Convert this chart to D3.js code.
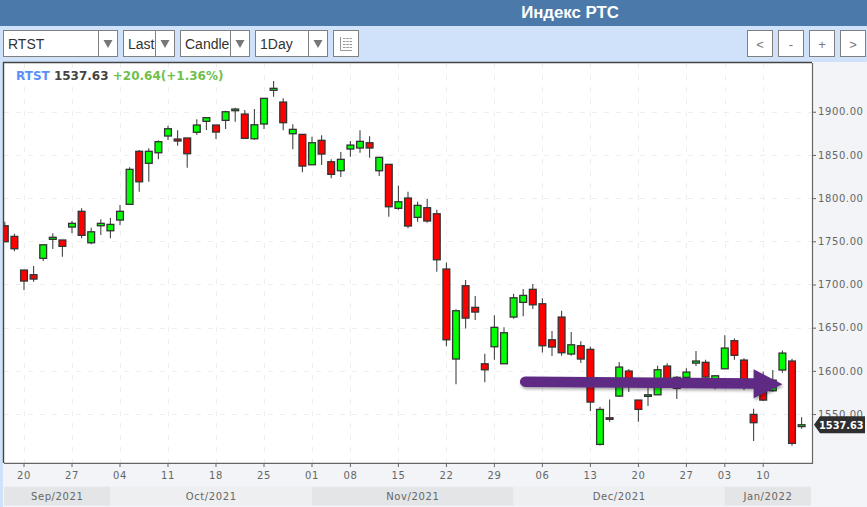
<!DOCTYPE html>
<html>
<head>
<meta charset="utf-8">
<script src="https://cdn.jsdelivr.net/npm/d3@7/dist/d3.min.js"></script>
<style>
html,body{margin:0;padding:0;background:#f2f4f7;overflow:hidden}
svg{display:block}
text{font-family:"DejaVu Sans",sans-serif}
.ui text{font-family:"Liberation Sans",Arial,sans-serif}
</style>
</head>
<body>
<svg id="c" width="867" height="507"></svg>
<script>
const dates = ["2021-09-16","2021-09-17","2021-09-20","2021-09-21","2021-09-22","2021-09-23","2021-09-24","2021-09-27","2021-09-28","2021-09-29","2021-09-30",
"2021-10-01","2021-10-04","2021-10-05","2021-10-06","2021-10-07","2021-10-08","2021-10-11","2021-10-12","2021-10-13","2021-10-14","2021-10-15","2021-10-18","2021-10-19","2021-10-20","2021-10-21","2021-10-22","2021-10-25","2021-10-26","2021-10-27","2021-10-28","2021-10-29",
"2021-11-01","2021-11-02","2021-11-03","2021-11-05","2021-11-08","2021-11-09","2021-11-10","2021-11-11","2021-11-12","2021-11-15","2021-11-16","2021-11-17","2021-11-18","2021-11-19","2021-11-22","2021-11-23","2021-11-24","2021-11-25","2021-11-26","2021-11-29","2021-11-30",
"2021-12-01","2021-12-02","2021-12-03","2021-12-06","2021-12-07","2021-12-08","2021-12-09","2021-12-10","2021-12-13","2021-12-14","2021-12-15","2021-12-16","2021-12-17","2021-12-20","2021-12-21","2021-12-22","2021-12-23","2021-12-24","2021-12-27","2021-12-28","2021-12-29","2021-12-30",
"2022-01-03","2022-01-04","2022-01-05","2022-01-06","2022-01-10","2022-01-11","2022-01-12","2022-01-13","2022-01-14"];
const opens = [1768,1755.7,1716.7,1711.3,1730.3,1752.3,1751.5,1766.5,1784.7,1748.3,
1768,1762.2,1774.6,1792.8,1854.2,1840.3,1852.5,1871.9,1868.4,1869.6,
1876.2,1888.9,1884.6,1890,1901.2,1897.3,1868.7,1885.8,1924.8,1911.2,
1874.5,1873.8,1838.6,1866.9,1842.1,1831.7,1856.8,1858,1864.1,1831.7,
1839.1,1788.2,1800.1,1777.7,1788.9,1781.9,1717.9,1613.7,1698.5,1673.5,
1608.2,1627.9,1608.2,1662.3,1679.3,1694.4,1677.7,1636,1662.3,1619.5,
1629.1,1624.9,1514.9,1545.7,1570.8,1599.8,1566.2,1570.5,1572.3,1605.6,
1579.7,1592.5,1609,1609.9,1582.4,1602.4,1634.9,1612.5,1549.6,1583.6,
1577,1601,1611.4,1535.5];
const closes = [1749.5,1741.4,1704,1706.3,1746,1754.6,1744.2,1770.8,1756.9,1761,
1770.8,1769.6,1784.7,1833.3,1818.9,1854.2,1865.3,1880.3,1866.1,1851.4,
1884.6,1893.1,1876.5,1900,1903.1,1869.2,1884.9,1915.5,1927.1,1887.3,
1879.6,1837.1,1864.1,1851,1827.5,1844.9,1861.4,1865.7,1858,1847.2,
1790,1795.8,1767.7,1791.6,1773.5,1728.6,1636,1669.6,1661.1,1668.1,
1601.3,1650.4,1644.1,1684.6,1687.4,1676.5,1629.1,1627.6,1621,1630.2,
1613.7,1563.9,1555.4,1543.9,1604.4,1582.4,1555.4,1572.3,1601.3,1583.6,
1592.5,1598.6,1611.4,1592.8,1594.3,1626.4,1618,1586,1540,1566.2,
1589.3,1620.6,1516.1,1537.63];
const highs = [1772.6,1758.7,1716.7,1721.3,1746,1759.2,1751.5,1773.4,1788.2,1765.7,
1775.4,1777,1792,1835.6,1855.7,1857.6,1866.9,1883.8,1878.5,1869.6,
1891.2,1893.9,1884.6,1901.2,1904.6,1902,1903.1,1915.5,1935.5,1915.5,
1885.4,1873.8,1871.1,1872.7,1844.9,1853.3,1866.1,1878.5,1871.5,1847.2,
1839.1,1814.3,1807.4,1795.8,1798.9,1786.5,1725.6,1671.2,1705.1,1686.6,
1619.8,1664.3,1650.4,1689.3,1694.7,1700.5,1684,1646.1,1669.6,1645,
1634.2,1627.9,1558.4,1567,1610.2,1602.1,1566.2,1580.1,1606,1608.7,
1594,1602.9,1623,1612.9,1595,1641.1,1637.6,1614.5,1556.1,1599,
1601,1623.7,1614,1546.2];
const lows = [1749.5,1738.4,1693.6,1703.2,1727.1,1741,1732.1,1759.2,1753.4,1746.5,
1757.2,1753.4,1768.5,1792.8,1807.4,1818.9,1844.9,1867.2,1860.6,1835.2,
1873,1878.8,1868.4,1880,1888.4,1869.2,1867.6,1880,1917.4,1878.5,
1856.5,1829.8,1838.6,1838.3,1822.9,1824.4,1847.9,1852.5,1846.7,1825.6,
1778.4,1786.5,1765,1772.6,1771.5,1714.7,1628.4,1584.4,1649.2,1658.8,
1586.7,1612.9,1608.2,1660.3,1663.1,1671.6,1621.4,1617.1,1617.5,1617.5,
1609,1553.5,1513.7,1541.1,1569.7,1575.5,1541.1,1559.3,1572.3,1581.2,
1567.4,1586,1605.6,1591.3,1578.6,1602.4,1612.9,1577.8,1518.7,1565,
1575.8,1597.8,1513.3,1533];
const yTicks = [1550,1600,1650,1700,1750,1800,1850,1900];
const xTicks = ["2021-09-20","2021-09-27","2021-10-04","2021-10-11","2021-10-18","2021-10-25","2021-11-01","2021-11-08","2021-11-15","2021-11-22","2021-11-29","2021-12-06","2021-12-13","2021-12-20","2021-12-27","2022-01-03","2022-01-10"];
const monthStarts = ["2021-09-16","2021-10-01","2021-11-01","2021-12-01","2022-01-03"];
const monthLabels = ["Sep/2021","Oct/2021","Nov/2021","Dec/2021","Jan/2022"];
const titleText = "Индекс РТС";
const symbol = "RTST";
const lastPrice = 1537.63;
const changeText = "+20.64(+1.36%)";
const selects = ["RTST","Last","Candle","1Day"];
const navButtons = ["<","-","+",">"];
const arrowDates = ["2021-12-02","2022-01-06","2022-01-12"];
const arrowValues = [1587.5,1585.5,1584.5];

const plot = {l:4,r:812,t:63,b:463};
const svg = d3.select("#c");
const x = d3.scaleBand().domain(dates).range([0,806.4]).padding(0);
const y = d3.scaleLinear().domain([1493,1957]).range([463.3,62.5]);
const cx = d => x(d)+x.bandwidth()/2;

// page chrome
svg.append("rect").attr("width",867).attr("height",507).attr("fill","#f2f4f7");
svg.append("rect").attr("x",0).attr("y",0).attr("width",3).attr("height",507).attr("fill","#cfe2f9");
svg.append("rect").attr("width",867).attr("height",26).attr("fill","#4b79aa");
svg.append("rect").attr("y",26).attr("width",867).attr("height",36).attr("fill","#cfe2f9");
svg.append("text").attr("x",570).attr("y",18).attr("text-anchor","middle")
  .style("font-family","'Liberation Sans',Arial,sans-serif").style("font-weight","bold").style("font-size","16.8px")
  .attr("fill","#fff").text(titleText);

// toolbar
const ui = svg.append("g").attr("class","ui");
const selectBoxes = [[3.5,114,95],[123.5,51,32],[180.5,69,50],[255.5,72,53]];
selects.forEach((s,i)=>{
  const [bx,w,d] = selectBoxes[i];
  ui.append("rect").attr("x",bx).attr("y",30.5).attr("width",w).attr("height",26).attr("fill","#fff").attr("stroke","#808080");
  ui.append("text").attr("x",bx+4.5).attr("y",49).attr("fill","#333").style("font-size","14px").text(s);
  ui.append("rect").attr("x",bx+d).attr("y",30.5).attr("width",w-d).attr("height",26).attr("fill","#fff").attr("stroke","#808080");
  const m = bx+d+(w-d)/2;
  ui.append("path").attr("d",`M${m-4.5},40 L${m+4.5},40 L${m},48 Z`).attr("fill","#777");
});
ui.append("rect").attr("x",333.5).attr("y",30.5).attr("width",25).attr("height",26).attr("fill","#fff").attr("stroke","#808080");
const icon = ui.append("g").attr("stroke","#999").attr("fill","none");
icon.append("path").attr("d","M340.5,37 V50.5 H352");
[38.5,41.5,44.5,47.5].forEach(v=>icon.append("path").attr("d",`M343,${v} H352`).attr("stroke-dasharray","2.5 0.8"));
const navX = [747.5,778.5,809.5,840.5];
navButtons.forEach((s,i)=>{
  ui.append("rect").attr("x",navX[i]).attr("y",30.5).attr("width",25).attr("height",26).attr("fill","#fff").attr("stroke","#808080");
  ui.append("text").attr("x",navX[i]+12.5).attr("y",49).attr("text-anchor","middle").attr("fill","#777").style("font-size","13px").text(s);
});

// plot background
svg.append("rect").attr("x",plot.l).attr("y",plot.t).attr("width",plot.r-plot.l).attr("height",plot.b-plot.t).attr("fill","#fff");
svg.append("clipPath").attr("id","pc").append("rect").attr("x",plot.l).attr("y",plot.t).attr("width",plot.r-plot.l).attr("height",plot.b-plot.t);

// month bands
const monthEnd = [...monthStarts.slice(1).map(cx),811];
monthStarts.forEach((m,i)=>{
  const a = i===0?plot.l:cx(m), b = monthEnd[i];
  svg.append("rect").attr("x",a).attr("y",486.7).attr("width",b-a).attr("height",19)
    .attr("fill",i%2===0?"#e4e5e7":"#eeeff1");
  svg.append("text").attr("x",(a+b)/2).attr("y",500).attr("text-anchor","middle")
    .attr("fill","#666").style("font-size","10px").style("letter-spacing","0.6px").text(monthLabels[i]);
});

// grid
const grid = svg.append("g").attr("clip-path","url(#pc)").attr("stroke","#eeeeee").attr("stroke-dasharray","5 7").attr("fill","none");
grid.selectAll("line.h").data(yTicks).join("line").attr("class","h")
  .attr("x1",plot.l).attr("x2",plot.r).attr("y1",d=>Math.round(y(d))+0.5).attr("y2",d=>Math.round(y(d))+0.5);
grid.selectAll("line.v").data(xTicks).join("line").attr("class","v")
  .attr("y1",plot.t).attr("y2",plot.b).attr("x1",d=>Math.round(cx(d))+0.5).attr("x2",d=>Math.round(cx(d))+0.5);

// candles
const rows = dates.map((d,i)=>({d,o:opens[i],h:highs[i],l:lows[i],c:closes[i]}));
const cg = svg.append("g").attr("clip-path","url(#pc)");
const candle = cg.selectAll("g").data(rows).join("g");
candle.append("line").attr("x1",d=>cx(d.d)).attr("x2",d=>cx(d.d)).attr("y1",d=>y(d.h)).attr("y2",d=>y(d.l))
  .attr("stroke","#444").attr("stroke-width",1.1);
candle.append("rect").attr("x",d=>cx(d.d)-3.4).attr("width",6.8)
  .attr("y",d=>y(Math.max(d.o,d.c))).attr("height",d=>Math.abs(y(d.o)-y(d.c)))
  .attr("fill",d=>d.c>=d.o?"#00ff00":"#ff0000").attr("stroke","#333").attr("stroke-width",1.3);

// frame and axes
const axisStyle = g=>{
  g.selectAll(".domain").remove();
  g.selectAll("line").attr("stroke","#666");
  g.selectAll("text").attr("fill","#666").style("font-size","10px").style("font-family","'DejaVu Sans',sans-serif").style("letter-spacing","0.6px");
};
svg.append("g").attr("transform",`translate(0,${plot.b})`)
  .call(d3.axisBottom(x).tickValues(xTicks).tickSize(4).tickPadding(5).tickFormat(d=>d.slice(8))).call(axisStyle);
svg.append("g").attr("transform",`translate(${plot.r},0)`)
  .call(d3.axisRight(y).tickValues(yTicks).tickSize(4).tickPadding(2).tickFormat(d3.format(".2f"))).call(axisStyle);
svg.append("path").attr("d",`M${plot.l-0.5},${plot.b} V${plot.t-0.5} H${plot.r}`).attr("fill","none").attr("stroke","#444").attr("stroke-width",1.4);
svg.append("path").attr("d",`M${plot.l},${plot.b+0.3} H${plot.r+0.5} V${plot.t}`).attr("fill","none").attr("stroke","#666").attr("stroke-width",1.2);

// legend
const legend = svg.append("text").attr("x",16).attr("y",80).style("font-size","12px").style("font-weight","bold");
legend.append("tspan").attr("fill","#5b8ff9").text(symbol+" ");
legend.append("tspan").attr("fill","#444").text(lastPrice.toFixed(2)+" ");
legend.append("tspan").attr("fill","#6fbf4a").text(changeText);

// annotation arrow
const defs = svg.append("defs");
const f = defs.append("filter").attr("id","sh").attr("x","-5%").attr("y","-50%").attr("width","110%").attr("height","200%");
f.append("feDropShadow").attr("dx",1).attr("dy",2).attr("stdDeviation",1.5).attr("flood-color","#000").attr("flood-opacity",0.35);
const ax = arrowDates.map(cx), ay = arrowValues.map(y);
const arrow = svg.append("g").attr("filter","url(#sh)");
arrow.append("path").attr("d",`M${ax[0]+2},${ay[0]} L${ax[1]},${ay[1]}`).attr("stroke","#5e2a84").attr("stroke-width",10.5).attr("stroke-linecap","round").attr("fill","none");
arrow.append("path").attr("d",`M${ax[1]},${ay[2]-15} L${ax[2]},${ay[2]} L${ax[1]},${ay[2]+14} Z`).attr("fill","#5e2a84");

// last price tag
const ly = y(lastPrice);
svg.append("path").attr("d",`M814,${ly} L820,${ly-8.5} H865 V${ly+8.5} H820 Z`).attr("fill","#2f2f2f");
svg.append("text").attr("x",819).attr("y",ly+4).attr("fill","#fff").style("font-size","9.8px").style("font-weight","bold").text(lastPrice.toFixed(2));
</script>
</body>
</html>
